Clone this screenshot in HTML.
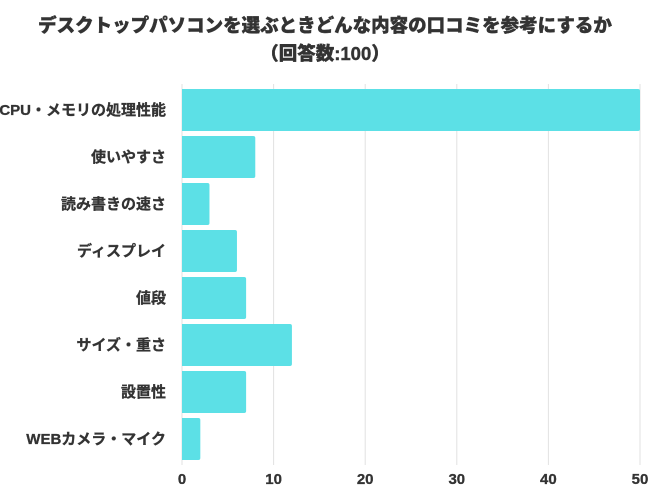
<!DOCTYPE html>
<html><head><meta charset="utf-8"><style>
body{margin:0;background:#fff;width:650px;height:488px;overflow:hidden;font-family:"Liberation Sans","Noto Sans CJK JP",sans-serif;}
</style></head><body>
<svg id="c" width="650" height="488" xmlns="http://www.w3.org/2000/svg"></svg>
<script>
const categories=["CPU・メモリの処理性能","使いやすさ","読み書きの速さ","ディスプレイ","値段","サイズ・重さ","設置性","WEBカメラ・マイク"];
const values=[50,8,3,6,7,12,7,2];
const ticks=[0,10,20,30,40,50];
const titleLines=["デスクトップパソコンを選ぶときどんな内容の口コミを参考にするか","（回答数:100）"];
const svg=document.getElementById('c');
const NS="http://www.w3.org/2000/svg";
const x0=182,x1=640,y0=89,band=47,bh=42;
const xs=v=>x0+(v/50)*(x1-x0);
function mk(t,a){const e=document.createElementNS(NS,t);for(const k in a)e.setAttribute(k,a[k]);svg.appendChild(e);return e;}
titleLines.forEach((t,i)=>{const e=mk('text',{x:325,y:32+i*28,'text-anchor':'middle','font-size':'18.5','font-weight':'900',fill:'#333',stroke:'#333','stroke-width':'0.4'});e.textContent=t;

});
ticks.forEach(t=>{const g=mk('line',{x1:xs(t),x2:xs(t),y1:84,y2:465,stroke:'#e2e2e2','stroke-width':1});


const l=mk('text',{x:xs(t),y:484,'text-anchor':'middle','font-size':'15','font-weight':'bold',fill:'#333',stroke:'#333','stroke-width':'0.3'});l.textContent=t;

});
categories.forEach((c,i)=>{const y=y0+i*band;
const r=mk('path',{d:`M${x0},${y}H${xs(values[i])-2}a2,2 0 0 1 2,2V${y+bh-2}a2,2 0 0 1 -2,2H${x0}Z`,fill:'#5ce0e6'});


const l=mk('text',{x:166,y:y+bh/2+5,'text-anchor':'end','font-size':'15','font-weight':'bold',fill:'#333',stroke:'#333','stroke-width':'0.3'});l.textContent=c;

});
</script>
</body></html>
